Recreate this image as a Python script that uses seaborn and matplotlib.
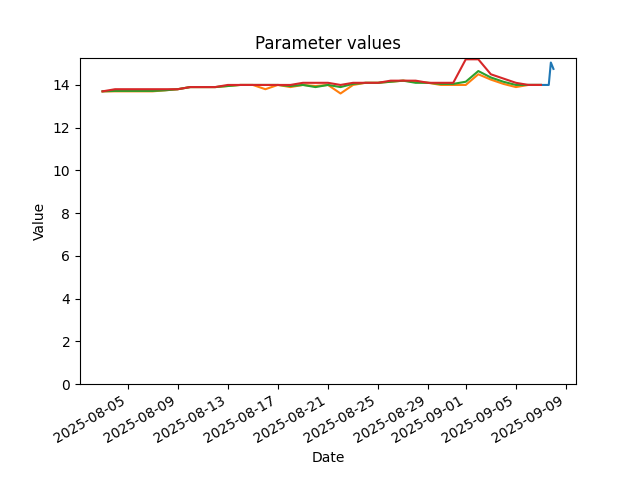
import matplotlib
matplotlib.use("Agg")
import matplotlib.pyplot as plt
import seaborn as sns
import pandas as pd

# daily dates for the three overlapping series
days = pd.date_range("2025-08-03", "2025-09-07", freq="D")

orange = [13.7, 13.7, 13.7, 13.7, 13.7, 13.75, 13.8, 13.9, 13.9, 13.9,
          13.95, 14.0, 14.0, 13.8, 14.0, 13.9, 14.0, 13.95, 14.0, 13.6,
          14.0, 14.1, 14.1, 14.15, 14.2, 14.15, 14.1, 14.0, 14.0, 14.0,
          14.5, 14.25, 14.05, 13.9, 14.0, 14.0]
green = [13.7, 13.72, 13.72, 13.72, 13.72, 13.75, 13.8, 13.9, 13.9, 13.9,
         13.95, 14.0, 14.0, 14.0, 14.0, 13.95, 14.0, 13.9, 14.0, 13.9,
         14.05, 14.1, 14.1, 14.15, 14.2, 14.1, 14.1, 14.05, 14.05, 14.15,
         14.65, 14.35, 14.15, 14.0, 14.0, 14.0]
red = [13.7, 13.8, 13.8, 13.8, 13.8, 13.8, 13.8, 13.9, 13.9, 13.9,
       14.0, 14.0, 14.0, 14.0, 14.0, 14.0, 14.1, 14.1, 14.1, 14.0,
       14.1, 14.1, 14.1, 14.2, 14.2, 14.2, 14.1, 14.1, 14.1, 15.2,
       15.2, 14.5, 14.3, 14.1, 14.0, 14.0]

# the blue series only shows at the end
blue_times = pd.to_datetime(["2025-09-06 00:00", "2025-09-07 00:00",
                             "2025-09-07 15:00", "2025-09-07 19:00",
                             "2025-09-08 00:00"])
blue = [14.0, 14.0, 14.0, 15.05, 14.75]

frames = [pd.DataFrame({"date": blue_times, "value": blue, "param": "p1"})]
for name, vals in [("p2", orange), ("p3", green), ("p4", red)]:
    frames.append(pd.DataFrame({"date": days, "value": vals, "param": name}))
df = pd.concat(frames, ignore_index=True)

fig, ax = plt.subplots(figsize=(6.4, 4.8), dpi=100)
sns.lineplot(data=df, x="date", y="value", hue="param",
             palette="tab10", legend=False, ax=ax)
ax.set_ylim(bottom=0)
ax.set_title("Parameter values")
ax.set_xlabel("Date")
ax.set_ylabel("Value")
fig.autofmt_xdate()
fig.savefig("out.png")
